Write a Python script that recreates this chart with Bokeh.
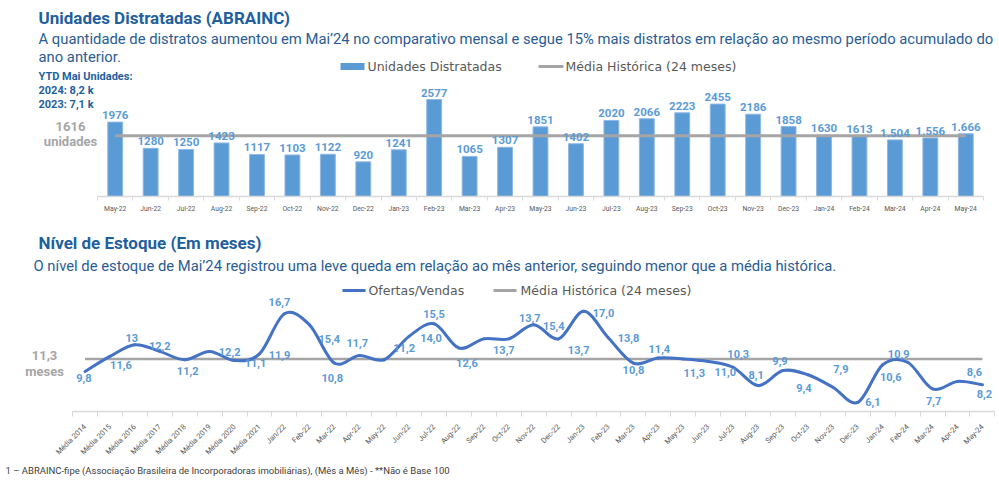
import numpy as np
from bokeh.plotting import figure
from bokeh.models import Range1d, FixedTicker, ColumnDataSource
from bokeh.layouts import column
from bokeh.core.properties import value
from bokeh.embed import file_html
from bokeh.resources import INLINE

# ---------------- data: top chart ----------------
months_units = ["May-22", "Jun-22", "Jul-22", "Aug-22", "Sep-22", "Oct-22", "Nov-22", "Dec-22",
                "Jan-23", "Feb-23", "Mar-23", "Apr-23", "May-23", "Jun-23", "Jul-23", "Aug-23",
                "Sep-23", "Oct-23", "Nov-23", "Dec-23", "Jan-24", "Feb-24", "Mar-24", "Apr-24", "May-24"]
units = [1976, 1280, 1250, 1423, 1117, 1103, 1122, 920, 1241, 2577, 1065, 1307, 1851, 1402,
         2020, 2066, 2223, 2455, 2186, 1858, 1630, 1613, 1504, 1556, 1666]
unit_labels = ["1976", "1280", "1250", "1423", "1117", "1103", "1122", "920", "1241", "2577",
               "1065", "1307", "1851", "1402", "2020", "2066", "2223", "2455", "2186", "1858",
               "1630", "1613", "1.504", "1.556", "1.666"]
units_mean = 1616
ytd_lines = ["YTD Mai Unidades:", "2024: 8,2 k", "2023: 7,1 k"]

# ---------------- data: bottom chart ----------------
stock_cats = ["Média 2014", "Média 2015", "Média 2016", "Média 2017", "Média 2018", "Média 2019",
              "Média 2020", "Média 2021", "Jan/22", "Feb-22", "Mar-22", "Apr-22", "May-22", "Jun-22",
              "Jul-22", "Aug-22", "Sep-22", "Oct-22", "Nov-22", "Dec-22", "Jan-23", "Feb-23",
              "Mar-23", "Apr-23", "May-23", "Jun-23", "Jul-23", "Aug-23", "Sep-23", "Oct-23",
              "Nov-23", "Dec-23", "Jan-24", "Feb-24", "Mar-24", "Apr-24", "May-24"]
stock = [9.8, 11.6, 13.0, 12.2, 11.2, 12.2, 11.1, 11.9, 16.7, 15.4, 10.8, 11.7, 11.2, 14.0,
         15.5, 12.6, 13.7, 13.7, 15.4, 13.7, 17.0, 13.8, 10.8, 11.4, 11.3, 11.0, 10.3, 8.1,
         9.9, 9.4, 7.9, 6.1, 10.6, 10.9, 7.7, 8.6, 8.2]
stock_labels = ["9,8", "11,6", "13", "12,2", "11,2", "12,2", "11,1", "11,9", "16,7", "15,4",
                "10,8", "11,7", "11,2", "14,0", "15,5", "12,6", "13,7", "13,7", "15,4", "13,7",
                "17,0", "13,8", "10,8", "11,4", "11,3", "11,0", "10,3", "8,1", "9,9", "9,4",
                "7,9", "6,1", "10,6", "10,9", "7,7", "8,6", "8,2"]
stock_mean = 11.3

# label placement (pixels, style only)
lab_dx = [-1, 11, -3, 0, 3, 20, 21, 20, -5, 20, -2, -2, 20, 22, 0, 8, 20, 21, 20, 20, 20, 20,
          0, 1, 11, 17, 5, -2, -3, -4, 8, 15, 8, -9, 1, 17, 2]
lab_dy = [7, 9, -7, -5, 11, 1, 2, 1, -12, 14, 15, -13, -12, 2, -10, 15, 11, -21, 1, 11, 2, 0,
          7, -9, 14, 11, -13, -11, -10, 13, -18, 0, 12, -8, 12, -9, 9]

# ---------------- styles ----------------
TITLE_C = "#1F5F9E"
SUB_C = "#2A5C93"
GRAY_T = "#595959"
BAR_C = "#5B9BD5"
LAB_C = "#5B9BD5"
LINE_C = "#4472C4"
MEAN_C = "#A5A5A5"
AXIS_C = "#D9D9D9"
W = 999
H1, H2, H3 = 230, 234, 16

# ---------- figure 1 : pixel -> data helpers ----------
X0_1, DX_1 = 114.72, 35.44      # px of first category centre, px per category
Y0_1, SY_1 = 196.0, 0.03764     # px of baseline, px per unit


def fx1(px):
    return (px - X0_1) / DX_1


def fy1(py):
    return (Y0_1 - py) / SY_1


p1 = figure(width=W, height=H1, x_range=Range1d(fx1(0), fx1(W)),
            y_range=Range1d(0, fy1(0)), output_backend="svg", toolbar_location=None,
            y_axis_location=None, min_border_left=0, min_border_right=0, min_border_top=0,
            min_border_bottom=int(H1 - Y0_1))
p1.outline_line_color = None
p1.xgrid.visible = False
p1.ygrid.visible = False

n1 = len(units)
xs1 = list(range(n1))
src1 = ColumnDataSource(dict(x=xs1, top=units, lab=unit_labels))
p1.vbar(x="x", top="top", width=0.42, source=src1, fill_color=BAR_C, line_color="#8FB8E4", line_width=1)
p1.line(x=xs1, y=[units_mean] * n1, line_color=MEAN_C, line_width=3)
p1.text(x="x", y="top", text="lab", source=src1, text_align="center", text_baseline="bottom",
        y_offset=-3, text_font=value("Roboto"), text_font_style="bold", text_font_size="11.5px",
        text_color=LAB_C)

ax1 = p1.xaxis[0]
ax1.ticker = FixedTicker(ticks=xs1, minor_ticks=[k - 0.5 for k in range(n1 + 1)])
ax1.major_label_overrides = {k: m for k, m in enumerate(months_units)}
ax1.bounds = (-0.5, n1 - 0.5)
ax1.axis_line_color = AXIS_C
ax1.axis_line_width = 1.5
ax1.major_tick_line_color = None
ax1.major_tick_out = 0
ax1.major_tick_in = 0
ax1.minor_tick_line_color = AXIS_C
ax1.minor_tick_out = 4
ax1.minor_tick_in = 0
ax1.major_label_standoff = 4
ax1.major_label_text_font = "Roboto"
ax1.major_label_text_font_size = "6.8px"
ax1.major_label_text_color = GRAY_T


def txt(p, x, y, s, size, color, bold=False, align="left", font="Roboto"):
    p.text(x=[x], y=[y], text=[s], text_align=align, text_baseline="middle",
           text_font=value(font), text_font_style="bold" if bold else "normal",
           text_font_size=size, text_color=color)


txt(p1, fx1(38), fy1(17), "Unidades Distratadas (ABRAINC)", "17px", TITLE_C, bold=True)
txt(p1, fx1(38), fy1(38), "A quantidade de distratos aumentou em Mai\u201924 no comparativo mensal e segue 15% mais distratos em rela\u00e7\u00e3o ao mesmo per\u00edodo acumulado do",
    "14.8px", SUB_C)
txt(p1, fx1(38), fy1(56), "ano anterior.", "14.8px", SUB_C)
for k, s in enumerate(ytd_lines):
    txt(p1, fx1(38), fy1(76 + 14 * k), s, "11px", TITLE_C, bold=True)
txt(p1, fx1(70), fy1(126), str(units_mean), "13px", "#A6A6A6", bold=True, align="center")
txt(p1, fx1(70), fy1(141), "unidades", "13px", "#A6A6A6", bold=True, align="center")

# legend (top)
p1.quad(left=[fx1(340)], right=[fx1(364)], bottom=[fy1(69.5)], top=[fy1(62.5)],
        fill_color=BAR_C, line_color=None)
txt(p1, fx1(367), fy1(66), "Unidades Distratadas", "12.5px", GRAY_T, font="DejaVu Sans")
p1.segment(x0=[fx1(538)], x1=[fx1(563)], y0=[fy1(66)], y1=[fy1(66)], line_color=MEAN_C, line_width=3)
txt(p1, fx1(565), fy1(66), "M\u00e9dia Hist\u00f3rica (24 meses)", "12.5px", GRAY_T, font="DejaVu Sans")

# ---------- figure 2 ----------
TOP2 = H1                     # px of figure 2 top
X0_2, DX_2 = 84.47, 24.93
YB_2, VMIN_2, SY_2 = 411.0, 5.0, 8.35


def fx2(px):
    return (px - X0_2) / DX_2


def fy2(py):
    return VMIN_2 + (YB_2 - py) / SY_2


p2 = figure(width=W, height=H2, x_range=Range1d(fx2(0), fx2(W)),
            y_range=Range1d(VMIN_2, fy2(TOP2)), output_backend="svg", toolbar_location=None,
            y_axis_location=None, min_border_left=0, min_border_right=0, min_border_top=0,
            min_border_bottom=int(TOP2 + H2 - YB_2))
p2.outline_line_color = None
p2.xgrid.visible = False
p2.ygrid.visible = False

n2 = len(stock)
xs2 = np.arange(n2, dtype=float)
ys2 = np.array(stock, dtype=float)

p2.line(x=list(xs2), y=[stock_mean] * n2, line_color=MEAN_C, line_width=2.5)

# smoothed line (Catmull-Rom as cubic Bezier segments)
xp = np.r_[xs2[0], xs2, xs2[-1]]
yp = np.r_[ys2[0], ys2, ys2[-1]]
i = np.arange(n2 - 1)
bz = dict(x0=xs2[:-1], y0=ys2[:-1], x1=xs2[1:], y1=ys2[1:],
          cx0=xs2[:-1] + (xp[i + 2] - xp[i]) / 6, cy0=ys2[:-1] + (yp[i + 2] - yp[i]) / 6,
          cx1=xs2[1:] - (xp[i + 3] - xp[i + 1]) / 6, cy1=ys2[1:] - (yp[i + 3] - yp[i + 1]) / 6)
p2.bezier(source=ColumnDataSource(bz), x0="x0", y0="y0", x1="x1", y1="y1",
          cx0="cx0", cy0="cy0", cx1="cx1", cy1="cy1", line_color=LINE_C, line_width=3,
          line_cap="round")

src2 = ColumnDataSource(dict(x=list(xs2), y=stock, lab=stock_labels, dx=lab_dx, dy=lab_dy))
p2.text(x="x", y="y", text="lab", x_offset="dx", y_offset="dy", source=src2,
        text_align="center", text_baseline="middle", text_font=value("Roboto"),
        text_font_style="bold", text_font_size="11px", text_color=LAB_C)

ax2 = p2.xaxis[0]
ax2.ticker = FixedTicker(ticks=list(range(n2)), minor_ticks=[k - 0.5 for k in range(n2 + 1)])
ax2.major_label_overrides = {k: c for k, c in enumerate(stock_cats)}
ax2.bounds = (-0.5, n2 - 0.5)
ax2.axis_line_color = AXIS_C
ax2.axis_line_width = 1.5
ax2.major_tick_line_color = None
ax2.major_tick_out = 0
ax2.major_tick_in = 0
ax2.minor_tick_line_color = AXIS_C
ax2.minor_tick_out = 5
ax2.minor_tick_in = 0
ax2.major_label_orientation = np.pi / 4
ax2.major_label_standoff = 9
ax2.major_label_text_font = "Roboto"
ax2.major_label_text_font_size = "7.5px"
ax2.major_label_text_color = GRAY_T

txt(p2, fx2(38), fy2(242), "N\u00edvel de Estoque (Em meses)", "17px", TITLE_C, bold=True)
txt(p2, fx2(33), fy2(265), "O n\u00edvel de estoque de Mai\u201924 registrou uma leve queda em rela\u00e7\u00e3o ao m\u00eas anterior, seguindo menor que a m\u00e9dia hist\u00f3rica.",
    "14.8px", SUB_C)
txt(p2, fx2(44), fy2(355), "11,3", "13px", "#A6A6A6", bold=True, align="center")
txt(p2, fx2(44), fy2(371), "meses", "13px", "#A6A6A6", bold=True, align="center")

p2.segment(x0=[fx2(342)], x1=[fx2(365)], y0=[fy2(290)], y1=[fy2(290)], line_color=LINE_C, line_width=3)
txt(p2, fx2(368), fy2(290), "Ofertas/Vendas", "12.5px", GRAY_T, font="DejaVu Sans")
p2.segment(x0=[fx2(493)], x1=[fx2(516)], y0=[fy2(290)], y1=[fy2(290)], line_color=MEAN_C, line_width=3)
txt(p2, fx2(520), fy2(290), "M\u00e9dia Hist\u00f3rica (24 meses)", "12.5px", GRAY_T, font="DejaVu Sans")

# ---------- figure 3 : footnote strip ----------
TOP3 = H1 + H2
p3 = figure(width=W, height=H3, x_range=Range1d(0, W), y_range=Range1d(0, H3),
            output_backend="svg", toolbar_location=None, x_axis_location=None,
            y_axis_location=None, min_border=0)
p3.outline_line_color = None
p3.xgrid.visible = False
p3.ygrid.visible = False
txt(p3, 5, TOP3 + H3 - 470, "1 \u2013 ABRAINC-fipe (Associa\u00e7\u00e3o Brasileira de Incorporadoras imobili\u00e1rias), (M\u00eas a M\u00eas) - **N\u00e3o \u00e9 Base 100",
    "9.5px", "#404040")

layout = column(p1, p2, p3, spacing=0)
open("out.html", "w").write(file_html(layout, INLINE))
